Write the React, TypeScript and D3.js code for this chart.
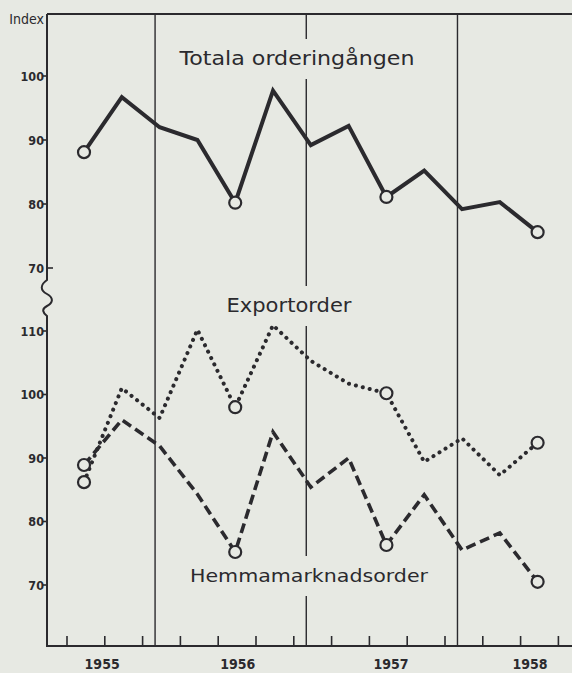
import React from 'react';
import * as d3 from 'd3';

// Quarterly index values, 1955–1958 (13 quarters)
const quarters = d3.range(13);
const totala = [88.1, 96.7, 92.0, 90.0, 80.2, 97.7, 89.2, 92.2, 81.1, 85.2, 79.2, 80.3, 75.6];
const exportorder = [86.2, 101.0, 96.3, 110.2, 98.0, 110.9, 105.3, 101.7, 100.2, 89.4, 93.1, 87.3, 92.4];
const hemma = [88.9, 96.0, 91.9, 84.3, 75.2, 94.1, 85.4, 90.0, 76.3, 84.2, 75.5, 78.2, 70.5];
const circled = [0, 4, 8, 12];

const upperTicks = [100, 90, 80, 70];
const lowerTicks = [110, 100, 90, 80, 70];
const years = ['1955', '1956', '1957', '1958'];
const yearLabelAt = [0.93, 4.52, 8.57, 12.25];
const yearLines = [2.33, 6.33, 10.33];
const quarterTicks = d3.range(14);
const seriesLabels = ['Totala orderingången', 'Exportorder', 'Hemmamarknadsorder'];

const W = 572;
const H = 673;
const BG = '#e7e9e3';
const INK = '#2b2a2e';

export default function App() {
  const x = d3.scaleLinear().domain([0, 13]).range([67, 558.4]);
  const px = (i: number) => x(quarters[i] + 0.45);
  const yU = d3.scaleLinear().domain([70, 100]).range([268, 76]);
  const yL = d3.scaleLinear().domain([70, 110]).range([585, 331]);

  const axisX = 47;
  const top = 14;
  const bottom = 646;

  const lineU = d3.line<number>().x((_, i) => px(i)).y((d) => yU(d));
  const lineL = d3.line<number>().x((_, i) => px(i)).y((d) => yL(d));

  const tickFont = "'DejaVu Sans Condensed', 'Liberation Sans Narrow', 'DejaVu Sans', sans-serif";
  const labelFont = "'DejaVu Sans', Verdana, sans-serif";

  const squiggle = `M${axisX},${top} L${axisX},280 C${axisX - 7},285 ${axisX - 7},290 ${axisX},294 C${axisX + 7},298 ${axisX + 6},303 ${axisX},306 C${axisX - 6},309 ${axisX - 4},313 ${axisX},316 L${axisX},${bottom}`;

  const labels = [
    { text: seriesLabels[0], cx: 297, base: 65, len: 235, size: 19 },
    { text: seriesLabels[1], cx: 289, base: 312, len: 125, size: 19 },
    { text: seriesLabels[2], cx: 309, base: 582, len: 238, size: 18.5 },
  ];

  return (
    <svg width={W} height={H} style={{ position: 'absolute', left: 0, top: 0 }}>
      <rect x={0} y={0} width={W} height={H} fill={BG} />

      {/* year separator lines */}
      {yearLines.map((v, i) => (
        <line key={i} x1={x(v)} x2={x(v)} y1={top} y2={bottom} stroke={INK} strokeWidth={1.4} />
      ))}

      {/* label masks over the separator lines */}
      {labels.map((l, i) => (
        <rect key={i} x={l.cx - l.len / 2 - 4} y={l.base - 26} width={l.len + 8} height={40} fill={BG} />
      ))}

      {/* frame: top border, y axis with break, x axis */}
      <line x1={axisX} x2={W} y1={top} y2={top} stroke={INK} strokeWidth={2} />
      <path d={squiggle} fill="none" stroke={INK} strokeWidth={2} />
      <line x1={axisX - 1} x2={W} y1={bottom} y2={bottom} stroke={INK} strokeWidth={2} />

      {/* x ticks */}
      {quarterTicks.map((q) => (
        <line key={q} x1={x(q)} x2={x(q)} y1={bottom} y2={bottom - 10} stroke={INK} strokeWidth={1.6} />
      ))}
      {years.map((yr, i) => (
        <text key={yr} x={x(yearLabelAt[i])} y={669} textAnchor="middle" fontFamily={tickFont}
          fontWeight="bold" fontSize={14} fill={INK}>{yr}</text>
      ))}

      {/* y ticks */}
      {upperTicks.map((t) => (
        <g key={'u' + t}>
          {t === 70 ? (
            <line x1={axisX} x2={axisX + 6} y1={yU(t)} y2={yU(t)} stroke={INK} strokeWidth={1.6} />
          ) : (
            <line x1={axisX - 4} x2={axisX} y1={yU(t)} y2={yU(t)} stroke={INK} strokeWidth={1.6} />
          )}
          <text x={axisX - 3} y={yU(t) + 4.5} textAnchor="end" fontFamily={tickFont} fontWeight="bold"
            fontSize={12.5} fill={INK}>{t}</text>
        </g>
      ))}
      {lowerTicks.map((t) => (
        <g key={'l' + t}>
          <line x1={axisX - 4} x2={axisX} y1={yL(t)} y2={yL(t)} stroke={INK} strokeWidth={1.6} />
          <text x={axisX - 3} y={yL(t) + 4.5} textAnchor="end" fontFamily={tickFont} fontWeight="bold"
            fontSize={12.5} fill={INK}>{t}</text>
        </g>
      ))}
      <text x={44} y={24} textAnchor="end" fontFamily={tickFont} fontSize={14} fill={INK}>Index</text>

      {/* series labels */}
      {labels.map((l, i) => (
        <text key={i} x={l.cx} y={l.base} textAnchor="middle" fontFamily={labelFont} fontSize={l.size}
          fill={INK} textLength={l.len} lengthAdjust="spacingAndGlyphs">{l.text}</text>
      ))}

      {/* data lines */}
      <path d={lineU(totala) || ''} fill="none" stroke={INK} strokeWidth={4} strokeLinejoin="miter" />
      <path d={lineL(exportorder) || ''} fill="none" stroke={INK} strokeWidth={4}
        strokeDasharray="0.1 7" strokeLinecap="round" />
      <path d={lineL(hemma) || ''} fill="none" stroke={INK} strokeWidth={3.6}
        strokeDasharray="10 5" strokeLinecap="butt" />

      {/* circled points */}
      {circled.map((i) => (
        <g key={i}>
          <circle cx={px(i)} cy={yU(totala[i])} r={6} fill={BG} stroke={INK} strokeWidth={2.2} />
          <circle cx={px(i)} cy={yL(exportorder[i])} r={6} fill={BG} stroke={INK} strokeWidth={2.2} />
          <circle cx={px(i)} cy={yL(hemma[i])} r={6} fill={BG} stroke={INK} strokeWidth={2.2} />
        </g>
      ))}
    </svg>
  );
}
